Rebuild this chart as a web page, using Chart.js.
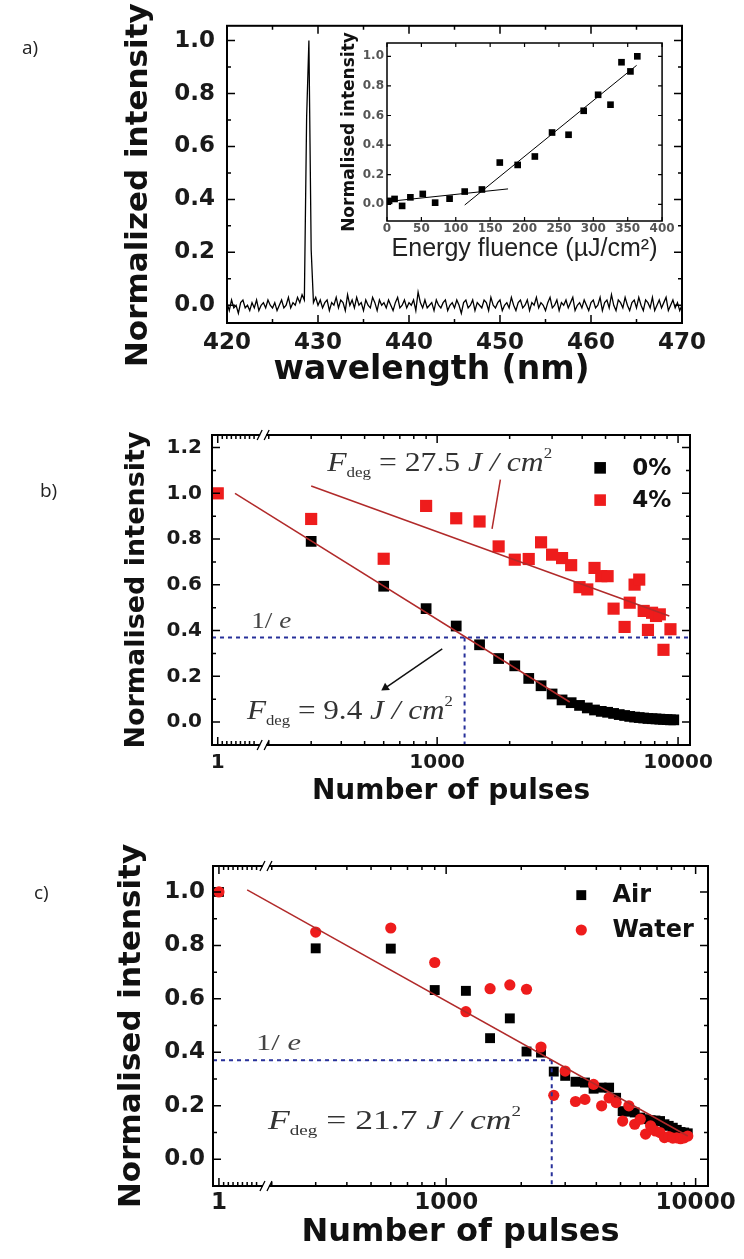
<!DOCTYPE html>
<html>
<head>
<meta charset="utf-8">
<script src="https://cdn.jsdelivr.net/npm/chart.js@4"></script>
<style>
  body { margin: 0; background: #fff; width: 744px; height: 1259px; position: relative; overflow: hidden; }
  canvas { position: absolute; left: 0; }
  .lab { position: absolute; font: 19px "Open Sans", sans-serif; color: #222; }
</style>
</head>
<body>
<canvas id="chartA" width="744" height="395" style="top:0;width:744px;height:395px"></canvas>
<canvas id="chartInset" width="345" height="240" style="left:330px;top:30px;width:345px;height:240px"></canvas>
<canvas id="chartB" width="744" height="425" style="top:400px;width:744px;height:425px"></canvas>
<canvas id="chartC" width="744" height="429" style="top:830px;width:744px;height:429px"></canvas>
<div class="lab" style="left:22px;top:34px">a)</div>
<div class="lab" style="left:40px;top:477px">b)</div>
<div class="lab" style="left:34px;top:879px">c)</div>
<script>
// ---- a) emission spectrum, sampled every 0.25 nm from 420 nm
var wlStart = 420, wlStep = 0.25;
var spectrum = [
  0.01,-0.02,0.02,-0.01,0.00,-0.03,0.01,0.02,-0.01,0.00,-0.02,0.01,-0.01,0.02,-0.02,0.00,0.01,-0.01,0.02,0.00,
  -0.01,0.01,-0.02,0.00,0.02,-0.01,0.00,0.03,-0.01,0.01,0.00,0.03,0.01,0.04,0.02,0.71,1.00,0.21,0.01,0.03,
  0.00,0.02,-0.01,0.01,0.02,-0.02,0.01,0.00,0.03,-0.01,0.02,0.01,-0.02,0.04,0.00,0.02,-0.01,0.03,0.00,0.01,
  -0.02,0.02,0.00,-0.01,0.03,0.01,-0.02,0.02,0.00,0.01,-0.01,0.02,0.00,-0.02,0.01,0.03,-0.01,0.00,0.02,-0.01,
  0.01,0.00,0.02,-0.02,0.05,0.01,-0.01,0.02,-0.01,0.00,0.01,-0.02,0.02,0.00,-0.01,0.01,0.02,-0.02,0.00,0.01,
  -0.01,0.02,0.00,-0.03,0.01,0.02,-0.01,0.00,0.02,-0.02,0.01,0.00,-0.01,0.02,0.01,-0.02,0.03,0.00,-0.01,0.01,
  0.02,-0.02,0.00,0.01,-0.01,0.03,0.00,-0.02,0.01,0.02,-0.01,0.00,0.02,-0.02,0.01,0.00,0.03,-0.01,0.01,0.00,
  -0.02,0.01,0.03,-0.01,0.00,0.02,-0.02,0.01,0.00,0.02,-0.01,0.01,0.03,-0.02,0.00,0.01,-0.01,0.02,0.00,-0.02,
  0.01,0.02,-0.01,0.00,0.03,-0.02,0.01,0.02,-0.01,0.04,0.00,-0.02,0.02,0.01,-0.01,0.03,0.00,-0.02,0.01,0.02,
  -0.01,0.03,0.00,-0.02,0.02,0.01,-0.01,0.03,-0.02,0.00,0.02,-0.01,0.01,0.03,-0.02,0.00,0.02,-0.01,0.01,-0.02,
  0.00
];
var wlTicks = [420, 430, 440, 450, 460, 470];
var wlMinor = [425, 435, 445, 455, 465];
var intTicksA = [0, 0.2, 0.4, 0.6, 0.8, 1.0];
var intMinorA = [0.1, 0.3, 0.5, 0.7, 0.9];

// ---- inset: intensity vs energy fluence
var fluence = [3, 11, 22, 34, 52, 70, 91, 113, 138, 164, 190, 215, 240, 264, 286, 307, 325, 341, 354, 364];
var fluenceInt = [0.023, 0.036, -0.011, 0.047, 0.07, 0.011, 0.038, 0.086, 0.10, 0.282, 0.266, 0.323, 0.485, 0.47, 0.632, 0.74, 0.673, 0.96, 0.898, 1.0];
var lowFitX = [0, 176], lowFitY = [0.018, 0.104];
var highFitX = [113, 363], highFitY = [-0.005, 0.939];
var fluenceTicks = [0, 50, 100, 150, 200, 250, 300, 350, 400];
var insetTicks = [0, 0.2, 0.4, 0.6, 0.8, 1.0];

// ---- b) 0% and 4%
var pulses0 = [1, 300, 600, 900, 1200, 1500, 1800, 2100, 2400, 2700, 3000, 3300, 3600, 3900, 4200, 4500, 4800,
  5100, 5400, 5700, 6000, 6300, 6600, 6900, 7200, 7500, 7800, 8100, 8400, 8700, 9000, 9300, 9600];
var int0 = [1.0, 0.79, 0.594, 0.496, 0.42, 0.338, 0.278, 0.246, 0.191, 0.159, 0.123, 0.097, 0.085, 0.073, 0.062, 0.053, 0.047,
  0.043, 0.038, 0.033, 0.029, 0.025, 0.022, 0.020, 0.018, 0.016, 0.015, 0.014, 0.013, 0.012, 0.011, 0.010, 0.010];
var pulses4 = [1, 300, 600, 900, 1200, 1500, 1800, 2100, 2400, 2700, 3000, 3300, 3600, 3900, 4200, 4500, 4800,
  5100, 5400, 6000, 6300, 6600, 6900, 7200, 7500, 7800, 8100, 8400, 8700, 9300];
var int4 = [1.00, 0.888, 0.714, 0.945, 0.891, 0.877, 0.768, 0.710, 0.713, 0.786, 0.732, 0.717, 0.686, 0.590, 0.580, 0.674, 0.638,
  0.638, 0.496, 0.416, 0.522, 0.601, 0.623, 0.486, 0.403, 0.478, 0.464, 0.471, 0.316, 0.406];
var fit0X = [4.8, 3550], fit0Y = [1.0, 0.088];
var fit4X = [300, 9200], fit4Y = [1.032, 0.464];
var pointerX = [1830, 1690], pointerY = [1.06, 0.845];
var arrowX = [1050, 610], arrowY = [0.32, 0.15];
var invE = 0.37;
var fdegB = 1300;

// ---- c) air and water
var pulsesAir = [1, 300, 600, 900, 1200, 1500, 1800, 2100, 2400, 2700, 3000, 3300, 3600, 3900, 4200, 4500,
  4800, 5100, 5400, 5700, 6000, 6300, 6600, 6900, 7200, 7500, 7800, 8100, 8400, 8700, 9000, 9300];
var intAir = [1.0, 0.789, 0.788, 0.633, 0.630, 0.453, 0.527, 0.403, 0.399, 0.328, 0.312, 0.290, 0.287, 0.264, 0.268, 0.268,
  0.230, 0.180, 0.178, 0.175, 0.156, 0.150, 0.146, 0.145, 0.143, 0.131, 0.125, 0.118, 0.110, 0.102, 0.100, 0.097];
var pulsesWater = pulsesAir;
var intWater = [1.0, 0.85, 0.865, 0.736, 0.552, 0.638, 0.652, 0.636, 0.42, 0.239, 0.33, 0.216, 0.224, 0.28, 0.2, 0.23,
  0.212, 0.143, 0.2, 0.131, 0.15, 0.094, 0.125, 0.106, 0.10, 0.081, 0.085, 0.079, 0.08, 0.077, 0.08, 0.087];
var fitCX = [7, 9300], fitCY = [1.0075, 0.087];
var fdegC = 2650;

var pulseTicks = [1, 1000, 10000];
var pulseTickLabels = ['1', '1000', '10000'];
var pulseMinor = [2, 3, 4, 5, 6, 7, 8, 9, 200, 300, 400, 500, 600, 700, 800, 900,
  2000, 3000, 4000, 5000, 6000, 7000, 8000, 9000];
var intTicksB = [0, 0.2, 0.4, 0.6, 0.8, 1.0, 1.2];
var intMinorB = [0.1, 0.3, 0.5, 0.7, 0.9, 1.1];
var intTicksC = [0, 0.2, 0.4, 0.6, 0.8, 1.0];
var intMinorC = [0.1, 0.3, 0.5, 0.7, 0.9];

// x axis with a break: "1" sits left of the break, the rest is logarithmic
class BrokenLogScale extends Chart.LinearScale {
  buildTicks() { return []; }
  decimalFor(v) {
    var m = this.options.mapping;
    if (v < 100) return m.d1 + (v - 1) * m.slope;
    return m.d1000 + m.perDecade * Math.log10(v / 1000);
  }
  getPixelForValue(v) { return this.getPixelForDecimal(this.decimalFor(v)); }
  getValueForPixel(px) {
    var m = this.options.mapping, d = this.getDecimalForPixel(px);
    if (d < m.d1 + 9.5 * m.slope) return 1 + (d - m.d1) / m.slope;
    return 1000 * Math.pow(10, (d - m.d1000) / m.perDecade);
  }
}
BrokenLogScale.id = 'brokenLog';
BrokenLogScale.defaults = {};
Chart.register(BrokenLogScale);

var pulseMapping = { d1: 0.012, slope: 0.0095, d1000: 0.471, perDecade: 0.504 };
var pulseMin = -0.26, pulseMax = 11200;

function pts(xs, ys) { return xs.map(function (x, i) { return { x: x, y: ys[i] }; }); }

function framePlugin(o) {
  return {
    id: 'frame',
    afterDraw: function (chart) {
      var ctx = chart.ctx, a = chart.chartArea, sx = chart.scales.x, sy = chart.scales.y;
      ctx.save();
      ctx.strokeStyle = '#000';
      ctx.lineWidth = o.tickWidth;
      ctx.beginPath();
      function vt(v, len) {
        var p = sx.getPixelForValue(v);
        ctx.moveTo(p, a.bottom); ctx.lineTo(p, a.bottom - len);
        ctx.moveTo(p, a.top); ctx.lineTo(p, a.top + len);
      }
      function ht(v, len) {
        var p = sy.getPixelForValue(v);
        ctx.moveTo(a.left, p); ctx.lineTo(a.left + len, p);
        ctx.moveTo(a.right, p); ctx.lineTo(a.right - len, p);
      }
      o.xMajor.forEach(function (v) { vt(v, o.major); });
      o.xMinor.forEach(function (v) { vt(v, o.minor); });
      o.yMajor.forEach(function (v) { ht(v, o.major); });
      o.yMinor.forEach(function (v) { ht(v, o.minor); });
      ctx.stroke();
      ctx.lineWidth = o.lineWidth;
      ctx.strokeRect(a.left, a.top, a.right - a.left, a.bottom - a.top);
      if (o.breakAt) {
        var p = sx.getPixelForValue(o.breakAt);
        ctx.lineWidth = 1.3;
        [a.top, a.bottom].forEach(function (yy) {
          ctx.fillStyle = '#fff';
          ctx.fillRect(p - 3, yy - 3, 6, 6);
          ctx.beginPath();
          ctx.moveTo(p - 6, yy + 5); ctx.lineTo(p - 1, yy - 5);
          ctx.moveTo(p + 1, yy + 5); ctx.lineTo(p + 6, yy - 5);
          ctx.stroke();
        });
      }
      ctx.restore();
    }
  };
}

// texts placed as fractions of the plot area
function notesPlugin(notes, legendRows, legendFont) {
  return {
    id: 'notes',
    afterDraw: function (chart) {
      var ctx = chart.ctx, a = chart.chartArea;
      var W = a.right - a.left, H = a.bottom - a.top;
      notes.forEach(function (n) {
        ctx.save();
        var total = 0;
        n.parts.forEach(function (p) { ctx.font = p.font; total += ctx.measureText(p.text).width; });
        ctx.translate(a.left + n.fx * W, a.top + n.fy * H);
        ctx.scale(n.width / total, 1);
        ctx.fillStyle = n.color;
        ctx.textBaseline = 'alphabetic';
        var cx = 0;
        n.parts.forEach(function (p) {
          ctx.font = p.font;
          ctx.fillText(p.text, cx, p.dy || 0);
          cx += ctx.measureText(p.text).width;
        });
        ctx.restore();
      });
      (legendRows || []).forEach(function (r) {
        var ds = chart.data.datasets[r.ds];
        ctx.save();
        ctx.fillStyle = ds.backgroundColor;
        Chart.helpers.drawPoint(ctx, { pointStyle: ds.pointStyle, radius: r.radius, rotation: 0, borderWidth: 0 },
          a.left + r.fx * W, a.top + r.fy * H);
        ctx.fillStyle = '#111';
        ctx.font = legendFont;
        ctx.textBaseline = 'middle';
        ctx.fillText(ds.label, a.left + r.tfx * W, a.top + r.fy * H + 1);
        ctx.restore();
      });
    }
  };
}

function axisOpts(o) {
  return Object.assign({
    grid: { display: false, drawTicks: false },
    border: { display: false },
    ticks: {
      padding: o.tickPad, color: o.tickColor || '#1a1a1a', maxRotation: 0, autoSkip: false,
      font: { family: 'DejaVu Sans', weight: 'bold', size: o.tickSize },
      callback: o.label
    },
    title: {
      display: true, text: o.title, color: o.titleColor || '#111',
      font: { family: o.titleFamily || 'DejaVu Sans', weight: o.titleWeight || 'bold', size: o.titleSize },
      padding: o.titlePad
    },
    afterFit: function (s) { if (o.w !== undefined) s.width = o.w; if (o.h !== undefined) s.height = o.h; },
    afterBuildTicks: function (s) { s.ticks = o.ticks.map(function (v) { return { value: v }; }); }
  }, o.extra);
}

function baseOptions(pad, x, y) {
  return {
    responsive: false, animation: false, devicePixelRatio: 1, events: [],
    layout: { padding: pad },
    plugins: { legend: { display: false }, tooltip: { enabled: false } },
    scales: { x: x, y: y }
  };
}

var fixed = function (v) { return v.toFixed(1); };
var lineDs = function (xs, ys, color, width, dash) {
  return { data: pts(xs, ys), showLine: true, fill: false, borderColor: color, borderWidth: width,
    borderDash: dash || [], pointRadius: 0, order: 0 };
};
var fitRed = '#b12a2a', dashBlue = '#27309a', markRed = '#ee1c1c';

// ---- chart a  (trailing spaces nudge the titles the way the original sits)
new Chart(document.getElementById('chartA'), {
  type: 'scatter',
  data: { datasets: [{
    data: spectrum.map(function (v, i) { return { x: wlStart + i * wlStep, y: v }; }),
    showLine: true, borderColor: '#000', borderWidth: 1.3, pointRadius: 0, tension: 0
  }] },
  options: baseOptions({ left: 0, top: 23, right: 62, bottom: 5.2 },
    axisOpts({ ticks: wlTicks, tickPad: 6, tickSize: 23, title: 'wavelength (nm)    ', titleSize: 33,
      titlePad: { top: 0, bottom: 0 }, h: 66.8, extra: { min: 420, max: 470 } }),
    axisOpts({ ticks: intTicksA, tickPad: 12, tickSize: 23, label: fixed, title: 'Normalized intensity  ', titleSize: 31,
      titlePad: { top: 120.4, bottom: 0 }, w: 227, extra: { min: -0.067, max: 1.056 } })),
  plugins: [framePlugin({ xMajor: wlTicks, xMinor: wlMinor, yMajor: intTicksA, yMinor: intMinorA,
    major: 8, minor: 4, tickWidth: 1.5, lineWidth: 2 })]
});

// ---- inset
new Chart(document.getElementById('chartInset'), {
  type: 'scatter',
  data: { datasets: [
    { data: pts(fluence, fluenceInt), pointStyle: 'rect', pointRadius: 4.7, backgroundColor: '#000', borderWidth: 0, order: 1 },
    lineDs(lowFitX, lowFitY, '#000', 1),
    lineDs(highFitX, highFitY, '#000', 1)
  ] },
  options: baseOptions({ left: 0, top: 13, right: 8, bottom: 6.2 },
    axisOpts({ ticks: fluenceTicks, tickPad: 0.4, tickSize: 12, tickColor: '#555',
      title: 'Energy fluence (\u00b5J/cm\u00b2)', titleSize: 25,
      titleFamily: 'Liberation Sans', titleWeight: 'normal', titleColor: '#222',
      titlePad: { top: 0, bottom: 0 }, h: 42.8, extra: { min: 0, max: 400 } }),
    axisOpts({ ticks: insetTicks, tickPad: 3, tickSize: 12, tickColor: '#555', label: fixed,
      title: 'Normalised intensity', titleSize: 17,
      titlePad: { top: 9.8, bottom: 0 }, w: 57, extra: { min: -0.113, max: 1.09 } })),
  plugins: [framePlugin({ xMajor: fluenceTicks, xMinor: [], yMajor: insetTicks, yMinor: [],
    major: 4, minor: 0, tickWidth: 1.2, lineWidth: 1.5 })]
});

// ---- chart b
var serif = '"Liberation Serif", serif';
function fdegParts(value, big, small) {
  return [
    { text: 'F', font: 'italic ' + big + 'px ' + serif },
    { text: 'deg', font: small + 'px ' + serif, dy: 6 },
    { text: ' = ' + value + ' ', font: big + 'px ' + serif },
    { text: 'J / cm', font: 'italic ' + big + 'px ' + serif },
    { text: '2', font: small + 'px ' + serif, dy: -13 }
  ];
}
var eParts = [
  { text: '1', font: '24px ' + serif },
  { text: '/ ', font: '24px ' + serif },
  { text: 'e', font: 'italic 24px ' + serif }
];

new Chart(document.getElementById('chartB'), {
  type: 'scatter',
  data: { datasets: [
    { label: '0%', data: pts(pulses0, int0), pointStyle: 'rect', pointRadius: 7.6, backgroundColor: '#000', borderWidth: 0, order: 3 },
    { label: '4%', data: pts(pulses4, int4), pointStyle: 'rect', pointRadius: 8.6, backgroundColor: markRed, borderWidth: 0, order: 2 },
    lineDs(fit0X, fit0Y, fitRed, 1.5),
    lineDs(fit4X, fit4Y, fitRed, 1.5),
    lineDs([pulseMin, pulseMax], [invE, invE], dashBlue, 2, [4, 4]),
    lineDs([fdegB, fdegB], [invE, -0.1], dashBlue, 2, [4, 4]),
    lineDs(pointerX, pointerY, fitRed, 1.5),
    Object.assign(lineDs(arrowX, arrowY, '#111', 1.5), { pointRadius: [0, 5], pointStyle: 'triangle',
      pointRotation: 236, pointBackgroundColor: '#111', pointBorderWidth: 0 })
  ] },
  options: baseOptions({ left: 0, top: 35, right: 54, bottom: 16.2 },
    axisOpts({ ticks: pulseTicks, tickPad: 6, tickSize: 20, label: function (v, i) { return pulseTickLabels[i]; },
      title: 'Number of pulses', titleSize: 28, titlePad: { top: 0, bottom: 0 }, h: 63.8,
      extra: { type: 'brokenLog', min: pulseMin, max: pulseMax, mapping: pulseMapping } }),
    axisOpts({ ticks: intTicksB, tickPad: 10, tickSize: 20, label: fixed, title: 'Normalised intensity', titleSize: 27,
      titlePad: { top: 120.8, bottom: 0 }, w: 212, extra: { min: -0.1, max: 1.255 } })),
  plugins: [
    framePlugin({ xMajor: pulseTicks, xMinor: pulseMinor, yMajor: intTicksB, yMinor: intMinorB,
      major: 8, minor: 4, tickWidth: 1.5, lineWidth: 2, breakAt: 11 }),
    notesPlugin([
      { fx: 0.241, fy: 0.116, width: 225, color: '#333', parts: fdegParts('27.5', 28, 15) },
      { fx: 0.073, fy: 0.916, width: 206, color: '#333', parts: fdegParts('9.4', 28, 15) },
      { fx: 0.082, fy: 0.623, width: 40, color: '#444', parts: eParts }
    ], [
      { ds: 0, fx: 0.812, fy: 0.106, tfx: 0.879, radius: 8.2 },
      { ds: 1, fx: 0.812, fy: 0.21, tfx: 0.879, radius: 8.2 }
    ], 'bold 23px "DejaVu Sans"')
  ]
});

// ---- chart c
new Chart(document.getElementById('chartC'), {
  type: 'scatter',
  data: { datasets: [
    { label: 'Air', data: pts(pulsesAir, intAir), pointStyle: 'rect', pointRadius: 7, backgroundColor: '#000', borderWidth: 0, order: 3 },
    { label: 'Water', data: pts(pulsesWater, intWater), pointStyle: 'circle', pointRadius: 5.6, backgroundColor: markRed, borderWidth: 0, order: 2 },
    lineDs(fitCX, fitCY, fitRed, 1.5),
    lineDs([pulseMin, fdegC], [invE, invE], dashBlue, 2, [4, 4]),
    lineDs([fdegC, fdegC], [invE, -0.1], dashBlue, 2, [4, 4])
  ] },
  options: baseOptions({ left: 0, top: 36, right: 36, bottom: 6.8 },
    axisOpts({ ticks: pulseTicks, tickPad: 3.2, tickSize: 23, label: function (v, i) { return pulseTickLabels[i]; },
      title: 'Number of pulses', titleSize: 32, titlePad: { top: 0, bottom: 0 }, h: 66.2,
      extra: { type: 'brokenLog', min: pulseMin, max: pulseMax, mapping: pulseMapping } }),
    axisOpts({ ticks: intTicksC, tickPad: 8, tickSize: 23, label: fixed, title: 'Normalised intensity', titleSize: 31,
      titlePad: { top: 113.4, bottom: 0 }, w: 213, extra: { min: -0.1, max: 1.097 } })),
  plugins: [
    framePlugin({ xMajor: pulseTicks, xMinor: pulseMinor, yMajor: intTicksC, yMinor: intMinorC,
      major: 8, minor: 4, tickWidth: 1.5, lineWidth: 2, breakAt: 11 }),
    notesPlugin([
      { fx: 0.111, fy: 0.822, width: 253, color: '#333', parts: fdegParts('21.7', 28, 15) },
      { fx: 0.087, fy: 0.575, width: 45, color: '#444', parts: eParts }
    ], [
      { ds: 0, fx: 0.744, fy: 0.091, tfx: 0.807, radius: 7 },
      { ds: 1, fx: 0.744, fy: 0.2, tfx: 0.807, radius: 5.6 }
    ], 'bold 24px "DejaVu Sans"')
  ]
});
</script>
</body>
</html>
